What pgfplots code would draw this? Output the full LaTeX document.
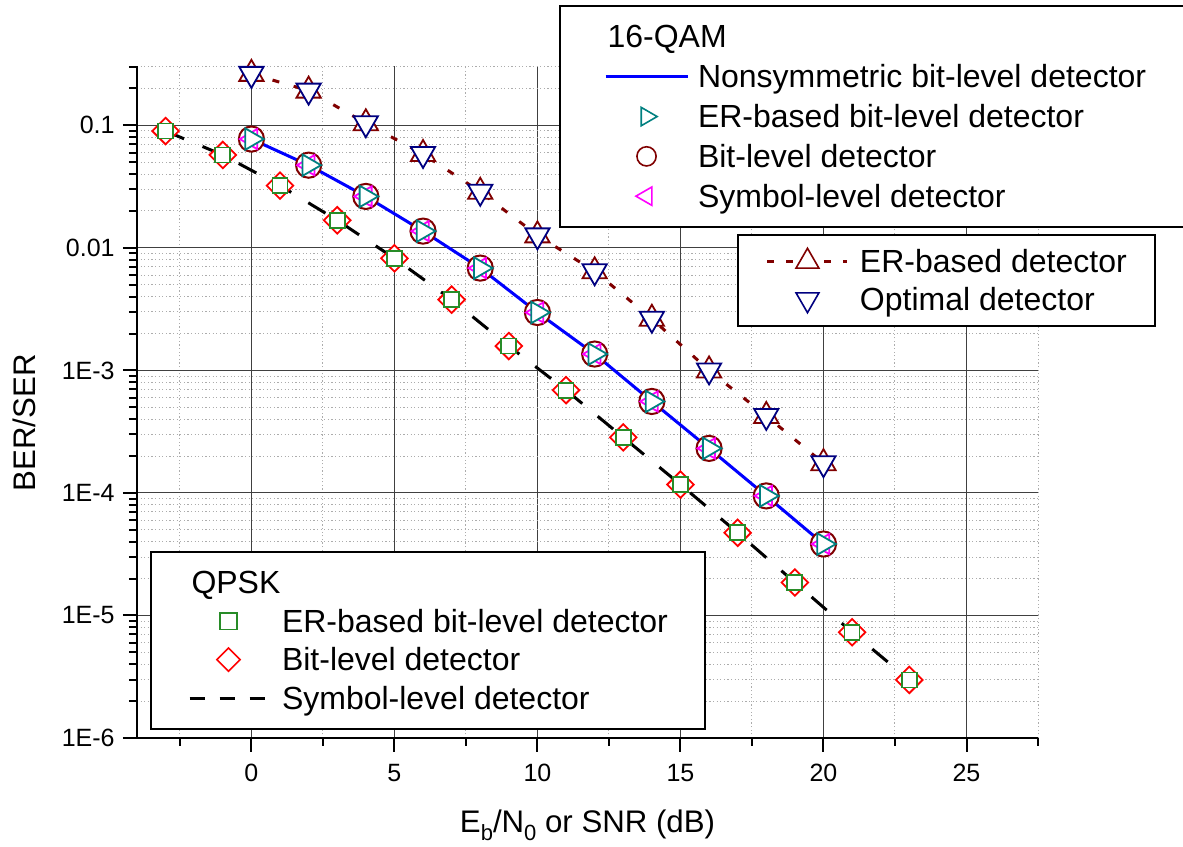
\documentclass[border=0pt]{standalone}
\usepackage{fontspec}
\setmainfont{Liberation Sans}
\usepackage{pgfplots}
\usepackage{pgfplotstable}
\pgfplotsset{compat=1.18}

\definecolor{wine}{RGB}{128,0,0}
\definecolor{navyblue}{RGB}{0,0,128}
\definecolor{darkcyan}{RGB}{0,128,128}
\definecolor{mkgreen}{RGB}{40,140,40}
\definecolor{pureblue}{RGB}{0,0,255}
\definecolor{purered}{RGB}{255,0,0}
\definecolor{puremagenta}{RGB}{255,0,255}

% QPSK: ER-based bit-level, bit-level and symbol-level detectors
\pgfplotstableread{
x    erbit     bit       sym
-3   0.0898    0.0898    0.0898
-1   0.0573    0.0573    0.0573
1    0.0322    0.0322    0.0322
3    0.0168    0.0168    0.0168
5    0.00822   0.00822   0.00822
7    0.00378   0.00378   0.00378
9    0.00158   0.00158   0.00158
11   6.9e-4    6.9e-4    6.9e-4
13   2.84e-4   2.84e-4   2.84e-4
15   1.17e-4   1.17e-4   1.17e-4
17   4.73e-5   4.73e-5   4.73e-5
19   1.86e-5   1.86e-5   1.86e-5
21   7.3e-6    7.3e-6    7.3e-6
23   2.98e-6   2.98e-6   2.98e-6
}\qpsk

% 16-QAM: bit-level detectors
\pgfplotstableread{
x    nonsym    erbit     bit       sym
0    0.0773    0.0773    0.0773    0.0773
2    0.0473    0.0473    0.0473    0.0473
4    0.0263    0.0263    0.0263    0.0263
6    0.0137    0.0137    0.0137    0.0137
8    0.00684   0.00684   0.00684   0.00684
10   0.00297   0.00297   0.00297   0.00297
12   0.00136   0.00136   0.00136   0.00136
14   5.58e-4   5.58e-4   5.58e-4   5.58e-4
16   2.31e-4   2.31e-4   2.31e-4   2.31e-4
18   9.46e-5   9.46e-5   9.46e-5   9.46e-5
20   3.83e-5   3.83e-5   3.83e-5   3.83e-5
}\qambit

% 16-QAM: ER-based and optimal detectors (SER)
\pgfplotstableread{
x    er        opt
0    0.263     0.263
2    0.192     0.192
4    0.104     0.104
6    0.0584    0.0584
8    0.0287    0.0287
10   0.01265   0.01265
12   0.00644   0.00644
14   0.00264   0.00264
16   0.00100   0.00100
18   4.25e-4   4.25e-4
20   1.75e-4   1.75e-4
}\qamsym

\pgfplotsset{
  legendlayer/.style={
    scale only axis, width=450.5pt, height=336pt,
    hide axis, xmin=0, xmax=1, ymin=0, ymax=1,
    legend cell align=left,
    legend style={
      draw=black, line width=1pt, fill=white, anchor=north west,
      font=\fontsize{16}{19}\selectfont,
      nodes={inner sep=0pt, text height=15pt, text depth=4pt},
    },
  },
}

\begin{document}
\begin{tikzpicture}
\useasboundingbox (-68.5pt,-54pt) rectangle (523pt,369pt);

\begin{axis}[
  scale only axis, width=450.5pt, height=336pt,
  xmin=-4, xmax=27.5,
  ymode=log, ymin=1e-6, ymax=0.305,
  axis x line*=bottom, axis y line*=left,
  axis line style={line width=1pt, -},
  tick align=outside,
  major tick length=7pt, minor tick length=4pt,
  every tick/.style={black, line width=1pt},
  xtick={0,5,10,15,20,25},
  minor xtick={-2.5,2.5,7.5,12.5,17.5,22.5,27.5},
  ytick={1e-6,1e-5,1e-4,1e-3,1e-2,1e-1},
  yticklabels={1E-6,1E-5,1E-4,1E-3,0.01,0.1},
  minor ytick={2e-6,3e-6,4e-6,5e-6,6e-6,7e-6,8e-6,9e-6,
               2e-5,3e-5,4e-5,5e-5,6e-5,7e-5,8e-5,9e-5,
               2e-4,3e-4,4e-4,5e-4,6e-4,7e-4,8e-4,9e-4,
               2e-3,3e-3,4e-3,5e-3,6e-3,7e-3,8e-3,9e-3,
               0.02,0.03,0.04,0.05,0.06,0.07,0.08,0.09,0.2,0.3},
  grid=both,
  major grid style={black!75, line width=0.5pt},
  minor grid style={gray!65, line width=0.5pt, dash pattern=on 0.6pt off 1.2pt},
  /pgf/number format/assume math mode=true,
  tick label style={font=\fontsize{12.5}{15}\selectfont},
  xticklabel style={anchor=north, inner sep=0pt, yshift=-6pt},
  yticklabel style={anchor=east, inner sep=0pt, xshift=-4pt},
  label style={font=\fontsize{15.6}{18}\selectfont},
  xlabel={E\raisebox{-4pt}{\fontsize{11}{11}\selectfont b}/N\raisebox{-4pt}{\fontsize{11}{11}\selectfont 0} or SNR (dB)},
  xlabel style={at={(axis description cs:0.5,-0.1399)}, anchor=base},
  ylabel={BER/SER},
  ylabel style={at={(axis description cs:-0.1121,0.469)}, anchor=base},
]
% curves
\addplot[black, line width=1.5pt, dash pattern=on 10pt off 10pt] table[x=x, y=sym] {\qpsk};
\addplot[pureblue, line width=1.5pt] table[x=x, y=nonsym] {\qambit};
\addplot[wine, line width=1.5pt, dash pattern=on 3.5pt off 7.5pt] table[x=x, y=er] {\qamsym};
% markers
\addplot[only marks, purered, mark=square*, mark size=4.7pt,
  mark options={rotate=45, fill=white, line width=0.9pt}] table[x=x, y=bit] {\qpsk};
\addplot[only marks, mkgreen, mark=square*, mark size=3.75pt,
  mark options={fill=white, line width=0.9pt}] table[x=x, y=erbit] {\qpsk};
\addplot[only marks, wine, mark=*, mark size=6.3pt,
  mark options={fill=white, line width=1pt}] table[x=x, y=bit] {\qambit};
\addplot[only marks, puremagenta, mark=triangle*, mark size=5.8pt,
  mark options={rotate=90, fill=white, line width=0.9pt}] table[x=x, y=sym] {\qambit};
\addplot[only marks, darkcyan, mark=triangle*, mark size=6.2pt,
  mark options={rotate=-90, fill=white, line width=0.9pt}] table[x=x, y=erbit] {\qambit};
\addplot[only marks, wine, mark=triangle*, mark size=7pt,
  mark options={fill=white, line width=0.9pt}] table[x=x, y=er] {\qamsym};
\addplot[only marks, navyblue, mark=triangle*, mark size=7pt,
  mark options={rotate=180, fill=white, line width=0.9pt}] table[x=x, y=opt] {\qamsym};
\end{axis}

% 16-QAM bit-level legend
\begin{axis}[legendlayer,
  legend image code/.code={\draw[mark repeat=2, mark phase=2, #1] plot coordinates {(0pt,0pt) (20.5pt,0pt) (41pt,0pt)};},
  legend style={at={(0.4684,1.0908)}, inner xsep=22pt, inner ysep=6pt, column sep=4.5pt, row sep=0.9pt},
]
\addlegendimage{legend image code/.code={\node[anchor=west] at (0pt,0pt) {\rlap{16-QAM}};}}
\addlegendentry{\mbox{}}
\addlegendimage{pureblue, line width=1.5pt}
\addlegendentry{Nonsymmetric bit-level detector}
\addlegendimage{only marks, darkcyan, mark=triangle*, mark size=5.3pt, mark options={rotate=-90, fill=white, line width=0.8pt}}
\addlegendentry{ER-based bit-level detector}
\addlegendimage{only marks, wine, mark=*, mark size=4.8pt, mark options={fill=white, line width=0.8pt}}
\addlegendentry{Bit-level detector}
\addlegendimage{only marks, puremagenta, mark=triangle*, mark size=5.3pt, mark options={rotate=90, fill=white, line width=0.8pt}}
\addlegendentry{Symbol-level detector}
\end{axis}

% 16-QAM symbol-error legend
\begin{axis}[legendlayer,
  legend image code/.code={\draw[mark repeat=2, mark phase=2, #1] plot coordinates {(0pt,0pt) (20pt,0pt) (40pt,0pt)};},
  legend style={at={(0.6659,0.75)}, inner xsep=14pt, inner ysep=3.75pt, column sep=5.5pt, row sep=0pt},
]
\addlegendimage{wine, line width=1.5pt, dash pattern=on 3.2pt off 6.3pt, mark=triangle*, mark size=6.6pt, mark options={solid, fill=white, line width=0.8pt}}
\addlegendentry{ER-based detector}
\addlegendimage{only marks, navyblue, mark=triangle*, mark size=6.6pt, mark options={rotate=180, fill=white, line width=0.8pt}}
\addlegendentry{Optimal detector}
\end{axis}

% QPSK legend
\begin{axis}[legendlayer,
  legend image code/.code={\draw[mark repeat=2, mark phase=2, #1] plot coordinates {(0pt,0pt) (19.5pt,0pt) (39pt,0pt)};},
  legend style={at={(0.01443,0.2783)}, inner xsep=18.5pt, inner ysep=5.95pt, column sep=6.5pt, row sep=0.2pt},
]
\addlegendimage{legend image code/.code={\node[anchor=west] at (0pt,0pt) {\rlap{QPSK}};}}
\addlegendentry{\mbox{}}
\addlegendimage{only marks, mkgreen, mark=square*, mark size=4.2pt, mark options={fill=white, line width=0.8pt}}
\addlegendentry{ER-based bit-level detector}
\addlegendimage{only marks, purered, mark=square*, mark size=4.1pt, mark options={rotate=45, fill=white, line width=0.8pt}}
\addlegendentry{Bit-level detector}
\addlegendimage{black, line width=1.5pt, dash pattern=on 7.75pt off 7.25pt}
\addlegendentry{Symbol-level detector}
\end{axis}
\end{tikzpicture}
\end{document}
